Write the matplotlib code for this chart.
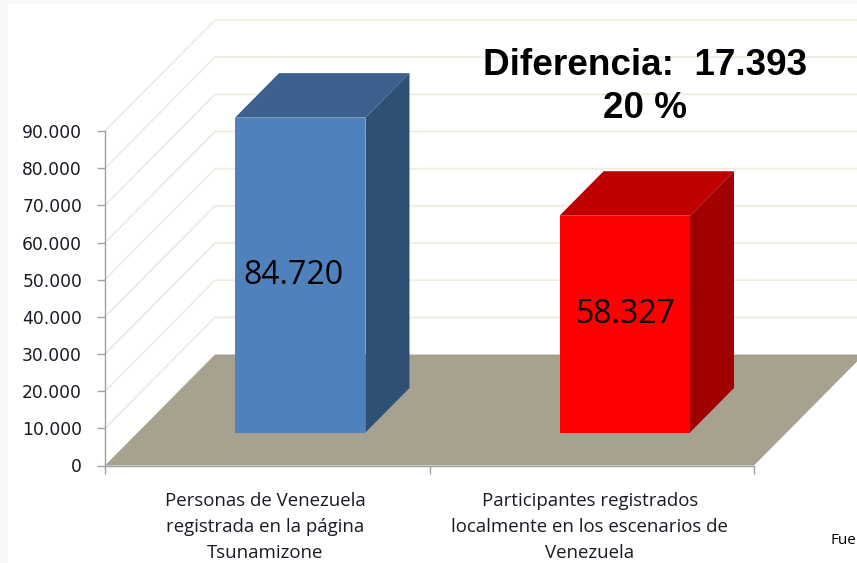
import matplotlib
matplotlib.use('Agg')
import matplotlib.pyplot as plt
from matplotlib.patches import Polygon, Rectangle

categories = ['Personas de Venezuela\nregistrada en la página\nTsunamizone',
              'Participantes registrados\nlocalmente en los escenarios de\nVenezuela']
values = [84720, 58327]
value_labels = ['84.720', '58.327']
front_colors = ['#4f81bd', '#ff0000']
top_colors = ['#3c618e', '#c00000']
side_colors = ['#2f5075', '#a00000']
y_ticks = [0, 10000, 20000, 30000, 40000, 50000, 60000, 70000, 80000, 90000]
y_labels = ['0', '10.000', '20.000', '30.000', '40.000', '50.000', '60.000', '70.000', '80.000', '90.000']

W, H = 857, 563
fig = plt.figure(figsize=(W / 100, H / 100), dpi=100, facecolor='white')
ax = fig.add_axes([105 / W, (H - 465.5) / H, 649 / W, 334.5 / H])
ax.set_xlim(-0.5, 1.5)
ax.set_ylim(0, 90000)
ax.patch.set_visible(False)

# faint edge of the slide
fig.patches.append(Rectangle((0, 0), 8 / W, 1, transform=fig.transFigure, color='#f8f8f8', lw=0, zorder=-5))
fig.patches.append(Rectangle((0, 1 - 4 / H), 1, 4 / H, transform=fig.transFigure, color='#f8f8f8', lw=0, zorder=-5))


# pixels to data units, for the fake 3d depth
def px_x(p):
    return p / 324.5


def px_y(p):
    return p * 90000 / 334.5


back_x = px_x(110)
back_y = px_y(111)
right = 1.5 + back_x

# walls
for t in y_ticks[1:]:
    ax.plot([-0.5, -0.5 + back_x, right], [t, t + back_y, t + back_y],
            color='#efece2', lw=1.3, clip_on=False, zorder=1)

# floor
ax.add_patch(Polygon([(-0.5, 0), (1.5, 0), (right, back_y), (-0.5 + back_x, back_y)],
                     facecolor='#a6a28f', edgecolor='none', clip_on=False, zorder=2))

# bars
width = 0.402
off_x, off_y = px_x(33), px_y(33)
dep_x, dep_y = px_x(44), px_y(44.5)
for i, v in enumerate(values):
    l = i - width / 2 + off_x
    r = i + width / 2 + off_x
    b = off_y
    t = off_y + v
    ax.bar(i + off_x, v, width, bottom=b, color=front_colors[i], clip_on=False, zorder=4)
    ax.add_patch(Polygon([(l, t), (r, t), (r + dep_x, t + dep_y), (l + dep_x, t + dep_y)],
                         facecolor=top_colors[i], edgecolor='none', clip_on=False, zorder=3))
    ax.add_patch(Polygon([(r, b), (r + dep_x, b + dep_y), (r + dep_x, t + dep_y), (r, t)],
                         facecolor=side_colors[i], edgecolor='none', clip_on=False, zorder=3))
    nudge = (-5, 0) if i == 0 else (1, 7)
    ax.annotate(value_labels[i], (i + off_x, off_y + v / 2), xytext=nudge, textcoords='offset points',
                ha='center', va='center', fontsize=23, family='Open Sans', color='black', zorder=5)

# axes
for s in ['top', 'right']:
    ax.spines[s].set_visible(False)
for s in ['left', 'bottom']:
    ax.spines[s].set_color('#a0a0a0')
    ax.spines[s].set_linewidth(1)
    ax.spines[s].set_zorder(6)
ax.set_yticks(y_ticks)
ax.set_yticklabels(y_labels, fontsize=12.3, color='#1a1a24')
ax.tick_params(axis='y', length=5.5, width=1, color='#a0a0a0', pad=11)
ax.set_xticks([-0.5, 0.5, 1.5])
ax.set_xticklabels(['', '', ''])
ax.tick_params(axis='x', which='major', length=6, width=1, color='#a0a0a0')
ax.set_xticks([-0.006, 0.994], minor=True)
ax.set_xticklabels(categories, minor=True, fontsize=13.4, family='Open Sans', color='#1a1a24', linespacing=1.57)
ax.tick_params(axis='x', which='minor', length=0, pad=19)

fig.text(645 / W, 1 - 87 / H, 'Diferencia:  17.393\n20 %', ha='center', va='center', fontsize=26.6,
         fontweight='bold', family='Liberation Sans', color='black', linespacing=1.32)
fig.text(830 / W, 1 - 541 / H, 'Fue', ha='left', va='center', fontsize=11, family='Open Sans', color='black')

fig.savefig('out.png', dpi=100)
